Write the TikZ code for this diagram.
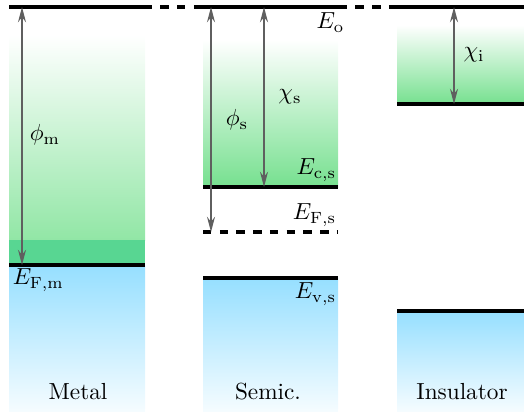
\documentclass[tikz,border=0pt]{standalone}
\usetikzlibrary{arrows.meta}
\definecolor{cgreen}{RGB}{118,224,143}
\definecolor{fgreen}{RGB}{88,214,146}
\definecolor{vblue}{RGB}{150,223,255}
\definecolor{vwhite}{RGB}{245,252,255}
\definecolor{arrgray}{RGB}{95,95,95}
\begin{document}
\begin{tikzpicture}[x=0.43pt,y=-0.43pt,
  level/.style={line width=1.4pt},
  dlevel/.style={line width=1.4pt, dash pattern=on 3.6pt off 3.6pt},
  vlevel/.style={line width=1.4pt, dash pattern=on 3.6pt off 3.6pt, dash phase=3.6pt},
  arr/.style={{Stealth[length=6.5pt,width=3.4pt]}-{Stealth[length=6.5pt,width=3.4pt]}, draw=arrgray, line width=0.85pt},
  lbl/.style={inner sep=1pt}]
\useasboundingbox (0,0) rectangle (524,411);
% ---- Metal ----
\shade[top color=white, bottom color=cgreen!80] (9,35) rectangle (145,240);
\fill[fgreen] (9,240) rectangle (145,265);
\shade[top color=vblue, bottom color=vwhite] (9,265) rectangle (145,411);
% ---- Semiconductor ----
\shade[top color=white, bottom color=cgreen] (203,40) rectangle (338,187);
\shade[top color=vblue, bottom color=vwhite] (203,278) rectangle (338,411);
% ---- Insulator ----
\shade[top color=white, bottom color=cgreen] (397,25) rectangle (524,104);
\shade[top color=vblue, bottom color=vwhite] (397,311) rectangle (524,411);
% ---- vacuum level ----
\draw[level] (9,7) -- (152,7);
\draw[vlevel] (152,7) -- (198,7);
\draw[level] (198,7) -- (347,7);
\draw[vlevel] (347,7) -- (392,7);
\draw[level] (392,7) -- (524,7);
% ---- other levels ----
\draw[level] (9,265) -- (145,265);
\draw[level] (203,187) -- (338,187);
\draw[dlevel] (203,232) -- (338,232);
\draw[level] (203,278) -- (338,278);
\draw[level] (397,104) -- (524,104);
\draw[level] (397,311) -- (524,311);
% ---- coordinates ----
\coordinate (mt) at (22,7);
\coordinate (mb) at (22,265);
\coordinate (pt) at (211,7);
\coordinate (pb) at (211,232);
\coordinate (ct) at (264,7);
\coordinate (cb) at (264,187);
\coordinate (it) at (454,7);
\coordinate (ib) at (454,104);
% ---- arrows ----
\draw[arr] (mt) -- (mb);
\draw[arr] (pt) -- (pb);
\draw[arr] (ct) -- (cb);
\draw[arr] (it) -- (ib);
% ---- labels ----
\node[lbl] (phim) at (45,135) {$\phi_{\mathrm{m}}$};
\node[lbl,anchor=north west] (efm) at (10,266) {$E_{\mathrm{F,m}}$};
\node[lbl,anchor=north east] (eo) at (347,10) {$E_{\mathrm{o}}$};
\node[lbl] (phis) at (237,120) {$\phi_{\mathrm{s}}$};
\node[lbl] (chis) at (290,97) {$\chi_{\mathrm{s}}$};
\node[lbl,anchor=south east] (ecs) at (339,184) {$E_{\mathrm{c,s}}$};
\node[lbl,anchor=south east] (efs) at (339,229) {$E_{\mathrm{F,s}}$};
\node[lbl,anchor=north east] (evs) at (339,280) {$E_{\mathrm{v,s}}$};
\node[lbl] (chii) at (474,55) {$\chi_{\mathrm{i}}$};
\node[lbl] (metal) at (78,392) {Metal};
\node[lbl] (semic) at (268,392) {Semic.};
\node[lbl] (ins) at (462,392) {Insulator};
\end{tikzpicture}
\end{document}
